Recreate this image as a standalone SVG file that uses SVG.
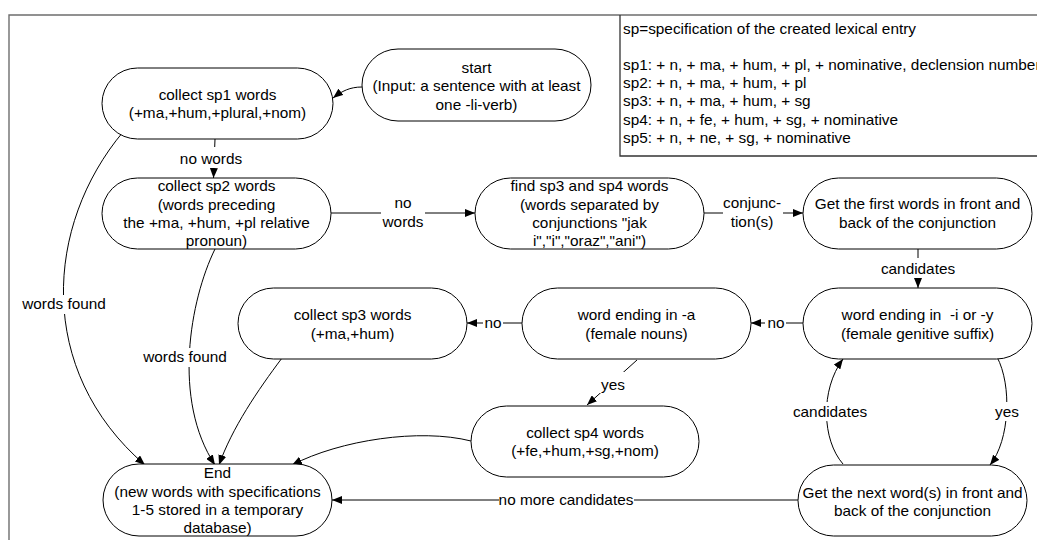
<svg xmlns="http://www.w3.org/2000/svg" width="1037" height="540" viewBox="0 0 1037 540">
<defs>
<marker id="ah" viewBox="0 0 10 8" refX="10" refY="4" markerWidth="10" markerHeight="8" markerUnits="userSpaceOnUse" orient="auto">
<path d="M0,0 L10,4 L0,8 Z" fill="#000"/>
</marker>
<style>
text{font-family:"Liberation Sans",Arial,sans-serif;font-size:15.35px;fill:#000}
.c{text-anchor:middle}
.node rect{fill:#fff;stroke:#000;stroke-width:1}
.con path{fill:none;stroke:#000;stroke-width:1;marker-end:url(#ah)}
.bg{fill:#fff;stroke:none}
</style>
</defs>
<rect width="1037" height="540" fill="#fff"/>
<path d="M9,540 L9,15 L1037,15" fill="none" stroke="#6e6e6e" stroke-width="1.4"/>
<g id="legend">
<path d="M1037,156 L620,156 L620,15" fill="none" stroke="#333" stroke-width="1.3"/>
<text x="623" y="33.5">sp=specification of the created lexical entry</text>
<text x="623" y="70">sp1: + n, + ma, + hum, + pl, + nominative, declension number</text>
<text x="623" y="88.2">sp2: + n, + ma, + hum, + pl</text>
<text x="623" y="106.4">sp3: + n, + ma, + hum, + sg</text>
<text x="623" y="124.6">sp4: + n, + fe, + hum, + sg, + nominative</text>
<text x="623" y="142.8">sp5: + n, + ne, + sg, + nominative</text>
</g>
<g id="connectors" class="con">
<path d="M362,87 C350,87 342,91 333,98"/>
<path d="M215,139 L213.5,178"/>
<path d="M331,213 L475,213"/>
<path d="M704,213 L803,213"/>
<path d="M918,249 L918,288"/>
<path d="M803,323 L751,323"/>
<path d="M522,323 L467,323"/>
<path d="M637,360 L587,405"/>
<path d="M997,357 C1012,385 1010,440 990,465"/>
<path d="M843,464 C822,440 820,390 843,359"/>
<path d="M798,500 L332,500"/>
<path d="M471,441 C420,428 340,440 292,465"/>
<path d="M282,358 C258,390 232,428 219,465"/>
<path d="M215,249 C190,300 172,400 215,465"/>
<path d="M123,132 C45,225 35,370 145,465"/>
</g>
<g id="labels">
<rect class="bg" x="179" y="147" width="64" height="21"/>
<text class="c" x="211" y="164">no words</text>
<rect class="bg" x="381" y="195" width="44" height="36"/>
<text class="c" x="403" y="208">no</text>
<text class="c" x="403" y="227">words</text>
<rect class="bg" x="723" y="195" width="60" height="36"/>
<text class="c" x="752" y="208">conjunc-</text>
<text class="c" x="752" y="227">tion(s)</text>
<rect class="bg" x="880" y="258" width="76" height="20"/>
<text class="c" x="918" y="274">candidates</text>
<rect class="bg" x="765" y="314" width="21" height="18"/>
<text class="c" x="776" y="328">no</text>
<rect class="bg" x="483" y="314" width="20" height="18"/>
<text class="c" x="493" y="328">no</text>
<rect class="bg" x="599" y="372" width="28" height="21"/>
<text class="c" x="613" y="390">yes</text>
<rect class="bg" x="994" y="402" width="26" height="19"/>
<text class="c" x="1007" y="417">yes</text>
<rect class="bg" x="792" y="402" width="77" height="19"/>
<text class="c" x="830" y="417">candidates</text>
<rect class="bg" x="499" y="491" width="135" height="19"/>
<text class="c" x="566" y="505">no more candidates</text>
<rect class="bg" x="142" y="348" width="86" height="19"/>
<text class="c" x="185" y="362">words found</text>
<rect class="bg" x="21" y="295" width="86" height="19"/>
<text class="c" x="64" y="309">words found</text>
</g>
<g id="n-start" class="node">
<rect x="362" y="49" width="229" height="72" rx="36"/>
<text class="c" x="476.5" y="72.5">start</text>
<text class="c" x="476.5" y="91">(Input: a sentence with at least</text>
<text class="c" x="476.5" y="109.5">one -li-verb)</text>
</g>
<g id="n-sp1" class="node">
<rect x="102" y="68" width="231" height="71" rx="35.5"/>
<text class="c" x="217.5" y="100">collect sp1 words</text>
<text class="c" x="217.5" y="118.3">(+ma,+hum,+plural,+nom)</text>
</g>
<g id="n-sp2" class="node">
<rect x="102" y="178" width="229" height="71" rx="35.5"/>
<text class="c" x="216.5" y="191">collect sp2 words</text>
<text class="c" x="216.5" y="209.5">(words preceding</text>
<text class="c" x="216.5" y="228">the +ma, +hum, +pl relative</text>
<text class="c" x="216.5" y="246.3">pronoun)</text>
</g>
<g id="n-find" class="node">
<rect x="475" y="178" width="229" height="71" rx="35.5"/>
<text class="c" x="589.5" y="191">find sp3 and sp4 words</text>
<text class="c" x="589.5" y="209.5">(words separated by</text>
<text class="c" x="589.5" y="228">conjunctions "jak</text>
<text class="c" x="589.5" y="246.3">i","i","oraz","ani")</text>
</g>
<g id="n-first" class="node">
<rect x="803" y="178" width="229" height="71" rx="35.5"/>
<text class="c" x="917.5" y="209">Get the first words in front and</text>
<text class="c" x="917.5" y="227.5">back of the conjunction</text>
</g>
<g id="n-endiy" class="node">
<rect x="803" y="288" width="229" height="71" rx="35.5"/>
<text class="c" x="917.5" y="320" xml:space="preserve">word ending in  -i or -y</text>
<text class="c" x="917.5" y="338.5">(female genitive suffix)</text>
</g>
<g id="n-enda" class="node">
<rect x="522" y="288" width="229" height="71" rx="35.5"/>
<text class="c" x="636.5" y="320">word ending in -a</text>
<text class="c" x="636.5" y="338.5">(female nouns)</text>
</g>
<g id="n-sp3" class="node">
<rect x="238" y="288" width="229" height="71" rx="35.5"/>
<text class="c" x="352.5" y="320">collect sp3 words</text>
<text class="c" x="352.5" y="338.5">(+ma,+hum)</text>
</g>
<g id="n-sp4" class="node">
<rect x="471" y="406" width="228" height="71" rx="35.5"/>
<text class="c" x="585" y="437.5">collect sp4 words</text>
<text class="c" x="585" y="456">(+fe,+hum,+sg,+nom)</text>
</g>
<g id="n-next" class="node">
<rect x="798" y="465" width="229" height="71" rx="35.5"/>
<text class="c" x="912.5" y="497.5">Get the next word(s) in front and</text>
<text class="c" x="912.5" y="516">back of the conjunction</text>
</g>
<g id="n-end" class="node">
<rect x="103" y="464" width="229" height="72" rx="36"/>
<text class="c" x="217.5" y="478">End</text>
<text class="c" x="217.5" y="496.5">(new words with specifications</text>
<text class="c" x="217.5" y="515">1-5 stored in a temporary</text>
<text class="c" x="217.5" y="533.3">database)</text>
</g>
</svg>
